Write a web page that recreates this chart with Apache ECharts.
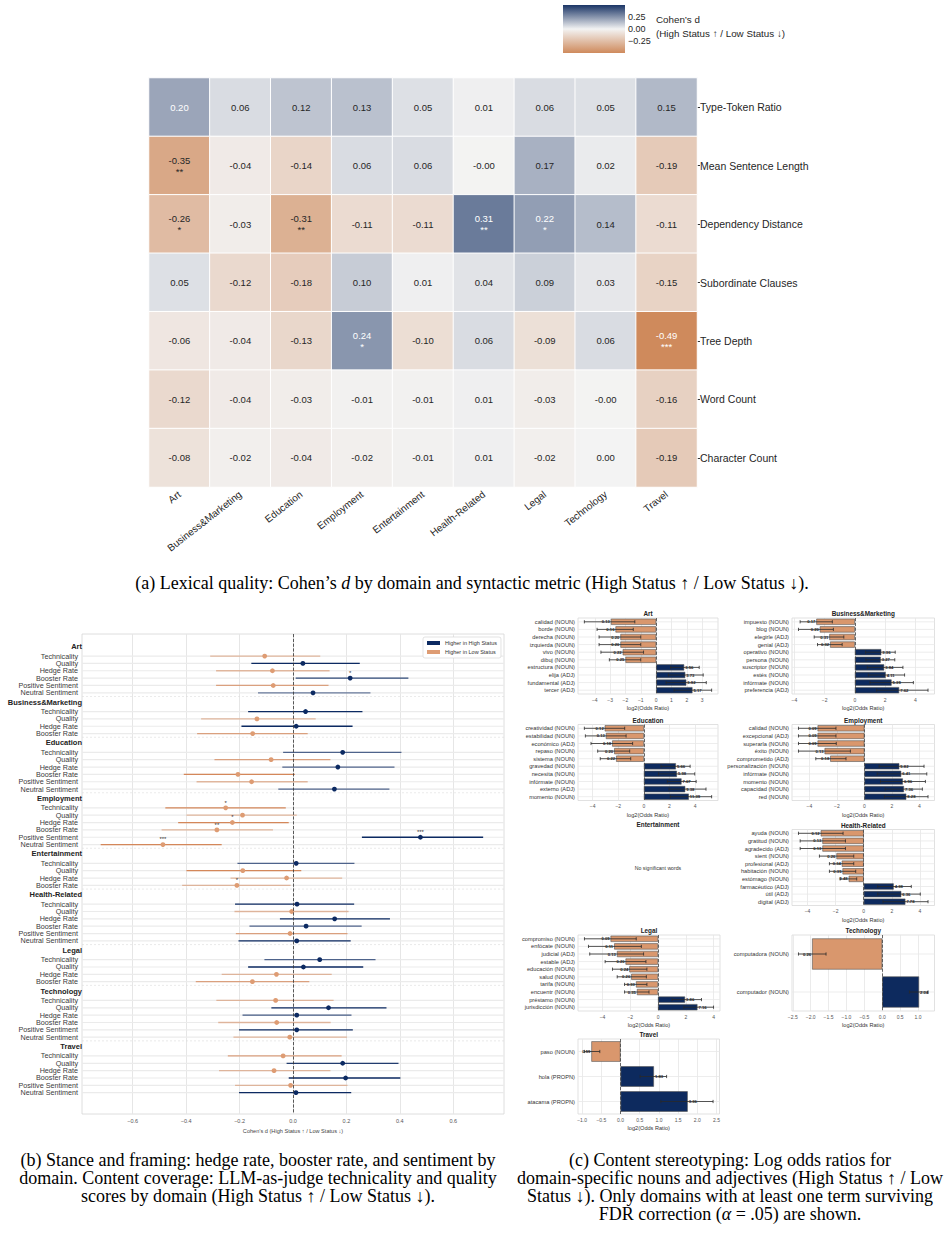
<!DOCTYPE html>
<html lang="en">
<head>
<meta charset="utf-8">
<title>Status framing figure</title>
<script src="https://cdn.jsdelivr.net/npm/echarts@6/dist/echarts.min.js"></script>
<style>
  body { margin: 0; background: #fff; }
  #chart { position: absolute; left: 0; top: 0; width: 944px; height: 1240px; }
  .cap { position: absolute; font-family: "Liberation Serif", "DejaVu Serif", serif; font-size: 18px; line-height: 18px; color: #000; text-align: center; }
</style>
</head>
<body>
<div id="chart"></div>
<div class="cap" style="left:0;width:944px;top:574px">(a) Lexical quality: Cohen’s <i>d</i> by domain and syntactic metric (High Status ↑ / Low Status ↓).</div>
<div class="cap" style="left:0;width:516px;top:1151px">(b) Stance and framing: hedge rate, booster rate, and sentiment by<br>domain. Content coverage: LLM-as-judge technicality and quality<br>scores by domain (High Status ↑ / Low Status ↓).</div>
<div class="cap" style="left:508px;width:444px;top:1151px">(c) Content stereotyping: Log odds ratios for<br>domain-specific nouns and adjectives (High Status ↑ / Low<br>Status ↓). Only domains with at least one term surviving<br>FDR correction (<i>α</i> = .05) are shown.</div>
<script>
// ---- (a) lexical quality heatmap ----
var domains = ['Art', 'Business&Marketing', 'Education', 'Employment', 'Entertainment', 'Health-Related', 'Legal', 'Technology', 'Travel'];
var lexMetrics = ['Type-Token Ratio', 'Mean Sentence Length', 'Dependency Distance', 'Subordinate Clauses', 'Tree Depth', 'Word Count', 'Character Count'];
var lexD = [
    [0.20, 0.06, 0.12, 0.13, 0.05, 0.01, 0.06, 0.05, 0.15],
    [-0.35, -0.04, -0.14, 0.06, 0.06, -0.002, 0.17, 0.02, -0.19],
    [-0.26, -0.03, -0.31, -0.11, -0.11, 0.31, 0.22, 0.14, -0.11],
    [0.05, -0.12, -0.18, 0.10, 0.01, 0.04, 0.09, 0.03, -0.15],
    [-0.06, -0.04, -0.13, 0.24, -0.10, 0.06, -0.09, 0.06, -0.49],
    [-0.12, -0.04, -0.03, -0.01, -0.01, 0.01, -0.03, -0.002, -0.16],
    [-0.08, -0.02, -0.04, -0.02, -0.01, 0.01, -0.02, 0.00, -0.19]
];
var lexStars = [
    ['', '', '', '', '', '', '', '', ''],
    ['**', '', '', '', '', '', '', '', ''],
    ['*', '', '**', '', '', '**', '*', '', ''],
    ['', '', '', '', '', '', '', '', ''],
    ['', '', '', '*', '', '', '', '', '***'],
    ['', '', '', '', '', '', '', '', ''],
    ['', '', '', '', '', '', '', '', '']
];
var cbarTicks = [-0.25, 0, 0.25];

// ---- (b) stance / coverage forest plot ----
var stanceGroups = domains;
var stanceMetrics = [
    ['Technicality', 'Quality', 'Hedge Rate', 'Booster Rate', 'Positive Sentiment', 'Neutral Sentiment'],
    ['Technicality', 'Quality', 'Hedge Rate', 'Booster Rate'],
    ['Technicality', 'Quality', 'Hedge Rate', 'Booster Rate', 'Positive Sentiment', 'Neutral Sentiment'],
    ['Technicality', 'Quality', 'Hedge Rate', 'Booster Rate', 'Positive Sentiment', 'Neutral Sentiment'],
    ['Technicality', 'Quality', 'Hedge Rate', 'Booster Rate'],
    ['Technicality', 'Quality', 'Hedge Rate', 'Booster Rate', 'Positive Sentiment', 'Neutral Sentiment'],
    ['Technicality', 'Quality', 'Hedge Rate', 'Booster Rate'],
    ['Technicality', 'Quality', 'Hedge Rate', 'Booster Rate', 'Positive Sentiment', 'Neutral Sentiment'],
    ['Technicality', 'Quality', 'Hedge Rate', 'Booster Rate', 'Positive Sentiment', 'Neutral Sentiment']
];
var stanceEst = [
    [-0.106, 0.037, -0.077, 0.214, -0.074, 0.075],
    [0.047, -0.135, 0.012, -0.151],
    [0.186, -0.082, 0.168, -0.206, -0.155, 0.155],
    [-0.252, -0.189, -0.227, -0.285, 0.477, -0.487],
    [0.012, -0.188, -0.024, -0.21],
    [0.015, -0.005, 0.156, 0.049, -0.011, 0.014],
    [0.10, 0.039, -0.062, -0.152],
    [-0.065, 0.133, 0.014, -0.061, 0.014, -0.012],
    [-0.037, 0.186, -0.071, 0.197, -0.009, 0.011]
];
var stanceLo = [
    [-0.31, -0.156, -0.288, 0.01, -0.288, -0.131],
    [-0.168, -0.344, -0.193, -0.359],
    [-0.037, -0.294, -0.04, -0.409, -0.361, -0.055],
    [-0.478, -0.399, -0.43, -0.492, 0.258, -0.72],
    [-0.208, -0.399, -0.234, -0.415],
    [-0.217, -0.219, -0.049, -0.163, -0.214, -0.204],
    [-0.107, -0.168, -0.267, -0.364],
    [-0.287, -0.081, -0.189, -0.28, -0.202, -0.223],
    [-0.244, -0.024, -0.277, -0.016, -0.217, -0.202]
];
var stanceHi = [
    [0.102, 0.25, 0.137, 0.432, 0.133, 0.29],
    [0.26, 0.085, 0.223, 0.055],
    [0.406, 0.14, 0.38, 0.007, 0.055, 0.361],
    [-0.027, 0.014, -0.016, -0.075, 0.712, -0.267],
    [0.23, 0.031, 0.184, -0.009],
    [0.229, 0.208, 0.363, 0.257, 0.204, 0.216],
    [0.309, 0.263, 0.145, 0.061],
    [0.152, 0.35, 0.219, 0.141, 0.224, 0.202],
    [0.182, 0.395, 0.14, 0.402, 0.204, 0.218]
];
var stanceSig = [
    ['', '', '', '*', '', ''],
    ['', '', '', ''],
    ['', '', '', '', '', ''],
    ['*', '', '*', '**', '***', '***'],
    ['', '', '', '*'],
    ['', '', '', '', '', ''],
    ['', '', '', ''],
    ['', '', '', '', '', ''],
    ['', '', '', '', '', '']
];
// line strength of each interval as it appears in the figure
var stanceAlpha = [
    [0.55, 1, 0.55, 0.85, 0.75, 0.6],
    [1, 0.55, 1, 0.75],
    [0.7, 0.75, 0.7, 1, 0.55, 0.7],
    [1, 0.55, 1, 0.55, 1, 1],
    [0.7, 1, 0.55, 0.55],
    [1, 0.55, 1, 0.7, 0.75, 1],
    [0.7, 1, 0.55, 0.75],
    [0.55, 1, 0.75, 0.55, 1, 0.55],
    [0.75, 0.9, 0.55, 1, 0.55, 1]
];
var stanceTicks = [-0.6, -0.4, -0.2, 0, 0.2, 0.4, 0.6];

// ---- (c) log odds ratios ----
var artWords = ['calidad (NOUN)', 'borde (NOUN)', 'derecha (NOUN)', 'izquierda (NOUN)', 'vivo (NOUN)', 'dibuj (NOUN)', 'estructura (NOUN)', 'elija (ADJ)', 'fundamental (ADJ)', 'tercer (ADJ)'];
var artLogOR = [-2.95, -2.65, -2.33, -2.33, -2.18, -2.0, 1.83, 1.9, 1.97, 2.37];
var artLo = [-4.68, -3.85, -3.72, -3.72, -3.6, -3.05, 0.95, 0.8, 0.65, 1.17];
var artHi = [-1.39, -1.49, -1.0, -1.0, -0.82, -1.0, 2.81, 3.07, 3.27, 3.62];

var bmWords = ['impuesto (NOUN)', 'blog (NOUN)', 'elegirle (ADJ)', 'genial (ADJ)', 'operativo (NOUN)', 'persona (NOUN)', 'suscriptor (NOUN)', 'estés (NOUN)', 'infórmate (NOUN)', 'preferencia (ADJ)'];
var bmLogOR = [-2.55, -2.32, -1.69, -1.64, 1.75, 1.71, 1.94, 2.04, 2.43, 2.93];
var bmLo = [-3.62, -3.73, -2.69, -2.47, 0.71, 0.73, 0.82, 0.89, 1.0, 1.44];
var bmHi = [-1.49, -1.42, -0.73, -0.84, 2.67, 2.64, 3.18, 3.29, 3.87, 4.84];

var eduWords = ['creatividad (NOUN)', 'estabilidad (NOUN)', 'económico (ADJ)', 'repaso (NOUN)', 'sistema (NOUN)', 'gravedad (NOUN)', 'necesita (NOUN)', 'infórmate (NOUN)', 'externo (ADJ)', 'momento (NOUN)'];
var eduLogOR = [-3.06, -2.97, -2.48, -2.32, -2.17, 2.5, 2.58, 2.94, 3.23, 3.51];
var eduLo = [-4.65, -4.57, -4.13, -3.61, -3.41, 1.34, 1.14, 1.83, 1.96, 2.06];
var eduHi = [-1.5, -1.39, -0.88, -1.11, -1.03, 3.61, 3.97, 4.08, 4.85, 5.29];

var empWords = ['calidad (NOUN)', 'excepcional (ADJ)', 'superarla (NOUN)', 'éxito (NOUN)', 'comprometido (ADJ)', 'personalización (NOUN)', 'infórmate (NOUN)', 'momento (NOUN)', 'capacidad (NOUN)', 'red (NOUN)'];
var empLogOR = [-3.41, -3.41, -3.41, -2.9, -2.49, 2.54, 2.68, 2.8, 2.88, 3.05];
var empLo = [-4.8, -4.8, -4.8, -4.8, -3.54, 1.07, 0.93, 1.17, 1.51, 1.46];
var empHi = [-2.07, -2.07, -2.05, -1.02, -1.34, 4.34, 4.54, 4.44, 4.22, 4.63];

var healthWords = ['ayuda (NOUN)', 'gratitud (NOUN)', 'agradecido (ADJ)', 'sient (NOUN)', 'profesional (ADJ)', 'habitación (NOUN)', 'estómago (NOUN)', 'farmacéutico (ADJ)', 'útil (ADJ)', 'digital (ADJ)'];
var healthLogOR = [-3.06, -2.94, -2.94, -1.94, -1.56, -1.51, -1.07, 2.13, 2.67, 2.96];
var healthLo = [-4.64, -4.52, -4.52, -3.15, -2.44, -2.44, -1.68, 0.99, 0.99, 1.37];
var healthHi = [-1.47, -1.3, -1.3, -0.71, -0.71, -0.57, -0.5, 3.38, 4.02, 4.57];

var legalWords = ['compromiso (NOUN)', 'enfócate (NOUN)', 'judicial (ADJ)', 'estable (ADJ)', 'educación (NOUN)', 'salud (NOUN)', 'tarifa (NOUN)', 'encuentr (NOUN)', 'préstamo (NOUN)', 'jurisdicción (NOUN)'];
var legalLogOR = [-3.42, -3.16, -2.96, -2.34, -2.07, -1.93, -1.59, -1.52, 1.95, 2.84];
var legalLo = [-5.3, -5.01, -4.92, -3.81, -3.28, -2.94, -2.41, -2.41, 1.01, 1.86];
var legalHi = [-1.57, -1.2, -1.04, -0.87, -0.8, -0.84, -0.8, -0.65, 3.13, 4.0];

var techWords = ['computadora (NOUN)', 'computador (NOUN)'];
var techLogOR = [-1.96, 1.03];
var techLo = [-2.34, 0.76];
var techHi = [-1.57, 1.28];

var travelWords = ['paso (NOUN)', 'hola (PROPN)', 'atacama (PROPN)'];
var travelLogOR = [-0.76, 0.87, 1.75];
var travelLo = [-0.94, 0.51, 1.05];
var travelHi = [-0.54, 1.2, 2.41];

var artTicks = [-4, -3, -2, -1, 0, 1, 2, 3];
var ticksBy2 = [-4, -2, 0, 2, 4];
var techTicks = [-2.5, -2, -1.5, -1, -0.5, 0, 0.5, 1];
var travelTicks = [-1, -0.5, 0, 0.5, 1, 1.5, 2, 2.5];

// ---- styling ----
var NAVY = '#0c2a62', ORANGE = '#d4875a', DOT_ORANGE = '#de9c73';
var BAR_ORANGE = '#d9976d', BAR_NAVY = '#0d2a5e';
var FONT = '"Liberation Sans", Arial, sans-serif';
var heatMin = -0.49, heatMax = 0.49;
var heatColors = ['#cf8a5c', '#f3f3f3', '#1b3566'];

function minus(s) { return String(s).replace('-', '\u2212'); }

function hexRgb(h) { return [parseInt(h.substr(1, 2), 16), parseInt(h.substr(3, 2), 16), parseInt(h.substr(5, 2), 16)]; }
function cellRgb(v) {
    var t = (v - heatMin) / (heatMax - heatMin) * (heatColors.length - 1);
    var k = Math.min(Math.floor(t), heatColors.length - 2), f = t - k;
    var a = hexRgb(heatColors[k]), b = hexRgb(heatColors[k + 1]);
    return [0, 1, 2].map(function (c) { return a[c] + (b[c] - a[c]) * f; });
}
function textColor(v) {
    var lin = cellRgb(v).map(function (c) { c /= 255; return c <= 0.03928 ? c / 12.92 : Math.pow((c + 0.055) / 1.055, 2.4); });
    var lum = 0.2126 * lin[0] + 0.7152 * lin[1] + 0.0722 * lin[2];
    return lum > 0.408 ? '#262626' : '#ffffff';
}

var heatData = [];
lexD.forEach(function (row, i) {
    row.forEach(function (v, j) {
        heatData.push({ value: [j, i, v], label: { color: textColor(v) } });
    });
});

// row positions of the forest plot: items one unit apart, wider gap between domains
var GROUP_GAP = 2.55;
var stRows = [], stHeads = [], stSeps = [];
var p = 0;
stanceGroups.forEach(function (g, gi) {
    if (gi > 0) {
        stSeps.push(p + 0.5);
        p += GROUP_GAP;
    }
    stHeads.push({ value: [0, p - GROUP_GAP / 2], name: g });
    stanceMetrics[gi].forEach(function (m, mi) {
        stRows.push({
            value: [stanceEst[gi][mi], p],
            lo: stanceLo[gi][mi], hi: stanceHi[gi][mi],
            sig: stanceSig[gi][mi], alpha: stanceAlpha[gi][mi], label: m
        });
        p += 1;
    });
    p -= 1;
});
var stLast = p;

function stanceRender(params, api) {
    var r = stRows[params.dataIndex];
    var cs = params.coordSys;
    var pt = api.coord([r.value[0], r.value[1]]);
    var y = pt[1];
    var xa = api.coord([r.lo, r.value[1]])[0], xb = api.coord([r.hi, r.value[1]])[0];
    var pos = r.value[0] >= 0;
    var kids = [
        { type: 'line', shape: { x1: cs.x, y1: y, x2: cs.x + cs.width, y2: y }, style: { stroke: '#ebebeb', lineWidth: 1.2 } },
        { type: 'line', shape: { x1: xa, y1: y, x2: xb, y2: y }, style: { stroke: pos ? NAVY : ORANGE, lineWidth: 1.3, opacity: r.alpha } },
        { type: 'circle', shape: { cx: pt[0], cy: y, r: 2.4 }, style: { fill: pos ? NAVY : DOT_ORANGE } },
        { type: 'text', x: cs.x - 4, y: y, style: { text: r.label, align: 'right', verticalAlign: 'middle', textAlign: 'right', textVerticalAlign: 'middle', fontSize: 7.2, fontFamily: FONT, fill: '#3a3a3a' } }
    ];
    if (r.sig) {
        kids.push({ type: 'text', x: pt[0], y: y - 2.2, style: { text: r.sig, align: 'center', verticalAlign: 'bottom', textAlign: 'center', textVerticalAlign: 'bottom', fontSize: 6, fontFamily: FONT, fill: '#333' } });
    }
    return { type: 'group', children: kids };
}

function headRender(params, api) {
    var h = stHeads[params.dataIndex];
    var cs = params.coordSys;
    var y = api.coord([0, h.value[1]])[1];
    var kids = [
        { type: 'text', x: cs.x, y: y, style: { text: h.name, align: 'right', verticalAlign: 'middle', textAlign: 'right', textVerticalAlign: 'middle', fontSize: 7.5, fontWeight: 'bold', fontFamily: FONT, fill: '#222' } }
    ];
    if (params.dataIndex > 0) {
        var ys = api.coord([0, stSeps[params.dataIndex - 1]])[1];
        kids.push({ type: 'line', shape: { x1: cs.x, y1: ys, x2: cs.x + cs.width, y2: ys }, style: { stroke: '#dcdcdc', lineWidth: 0.6, lineDash: [2, 2] } });
    }
    return { type: 'group', children: kids };
}

var option = {
    animation: false,
    textStyle: { fontFamily: FONT },
    grid: [
        { left: 149, top: 78, width: 548, height: 409 },
        { left: 563, top: 5, width: 62, height: 48 },
        { left: 82, top: 634, width: 422, height: 480, show: true, borderColor: '#d6d6d6', borderWidth: 0.8 }
    ],
    xAxis: [
        {
            gridIndex: 0, type: 'category', data: domains, position: 'bottom',
            axisLine: { show: false }, axisTick: { show: false }, splitLine: { show: false },
            axisLabel: { rotate: 38, fontSize: 10, color: '#262626', margin: 6, interval: 0 }
        },
        { gridIndex: 1, type: 'value', show: false, min: 0, max: 1 },
        {
            gridIndex: 2, type: 'value', min: -0.79, max: 0.79,
            axisLine: { show: false },
            axisTick: { show: false, customValues: stanceTicks },
            axisLabel: { customValues: stanceTicks, fontSize: 5.5, color: '#555', margin: 4, formatter: function (v) { return minus(v.toFixed(1)); } },
            splitLine: { show: true, lineStyle: { color: '#e6e6e6', width: 1 } },
            name: 'Cohen\u2019s d (High Status \u2191 / Low Status \u2193)', nameLocation: 'middle', nameGap: 14,
            nameTextStyle: { fontSize: 5.6, color: '#444' }
        }
    ],
    yAxis: [
        {
            gridIndex: 0, type: 'category', data: lexMetrics, inverse: true, position: 'right',
            axisLine: { show: false }, axisTick: { show: true, length: 3, alignWithLabel: true, lineStyle: { color: '#333' } },
            axisLabel: { fontSize: 10.5, color: '#262626', margin: 3 }
        },
        {
            gridIndex: 1, type: 'value', position: 'right', min: heatMin, max: heatMax,
            axisLine: { show: false }, splitLine: { show: false },
            axisTick: { show: true, length: 2.5, customValues: cbarTicks, lineStyle: { color: '#333' } },
            axisLabel: { customValues: cbarTicks, fontSize: 9, color: '#262626', margin: 3, formatter: function (v) { return minus(v.toFixed(2)); } }
        },
        {
            gridIndex: 2, type: 'value', inverse: true, min: -3, max: stLast + 2.9,
            axisLine: { show: false }, axisTick: { show: false }, axisLabel: { show: false }, splitLine: { show: false }
        }
    ],
    visualMap: {
        show: false, type: 'continuous', seriesIndex: 0, dimension: 2,
        min: heatMin, max: heatMax, inRange: { color: heatColors }
    },
    legend: {
        data: ['Higher in High Status', 'Higher in Low Status'],
        left: 423, top: 637, orient: 'vertical', icon: 'rect',
        itemWidth: 13, itemHeight: 4, itemGap: 3, padding: [3, 4, 3, 4],
        borderColor: '#d0d0d0', borderWidth: 0.6, borderRadius: 2, backgroundColor: '#fff',
        textStyle: { fontSize: 5.5, color: '#333' }
    },
    graphic: [
        {
            type: 'rect', left: 563, top: 5, z: 5,
            shape: { width: 62, height: 48 },
            style: {
                fill: new echarts.graphic.LinearGradient(0, 0, 0, 1, [
                    { offset: 0, color: heatColors[2] }, { offset: 0.5, color: heatColors[1] }, { offset: 1, color: heatColors[0] }
                ])
            }
        },
        { type: 'text', left: 656, top: 12, style: { text: 'Cohen\u2019s d\n(High Status \u2191 / Low Status \u2193)', fontSize: 9.8, lineHeight: 14, fill: '#262626', fontFamily: FONT } }
    ],
    series: [
        {
            type: 'heatmap', xAxisIndex: 0, yAxisIndex: 0, data: heatData,
            itemStyle: { borderColor: '#ffffff', borderWidth: 1 },
            label: {
                show: true, fontSize: 9.5, lineHeight: 11, fontFamily: FONT,
                formatter: function (pr) {
                    var s = lexStars[pr.value[1]][pr.value[0]];
                    return pr.value[2].toFixed(2) + (s ? '\n' + s : '');
                }
            },
            emphasis: { disabled: true }
        },
        {
            type: 'custom', xAxisIndex: 2, yAxisIndex: 2, data: stRows, renderItem: stanceRender, z: 3,
            encode: { x: 0, y: 1 },
            markLine: { silent: true, symbol: 'none', label: { show: false }, lineStyle: { type: 'dashed', color: '#333', width: 0.8 }, data: [{ xAxis: 0 }] }
        },
        { type: 'custom', xAxisIndex: 2, yAxisIndex: 2, data: stHeads, renderItem: headRender, z: 2, encode: { x: 0, y: 1 } },
        { name: 'Higher in High Status', type: 'line', xAxisIndex: 2, yAxisIndex: 2, data: [], itemStyle: { color: NAVY } },
        { name: 'Higher in Low Status', type: 'line', xAxisIndex: 2, yAxisIndex: 2, data: [], itemStyle: { color: DOT_ORANGE } }
    ]
};

// ---- small multiples of panel (c) ----
function addPanel(title, box, words, vals, lo, hi, ticks, dec) {
    var g = option.grid.length;
    var lmin = Math.min.apply(null, lo.concat([0])), lmax = Math.max.apply(null, hi.concat([0]));
    var pad = (lmax - lmin) * 0.05;
    option.grid.push({ left: box[0], top: box[1], width: box[2], height: box[3], show: true, borderColor: '#d9d9d9', borderWidth: 0.8 });
    option.xAxis.push({
        gridIndex: g, type: 'value', min: lmin - pad, max: lmax + pad,
        axisLine: { show: false },
        axisTick: { show: false, customValues: ticks },
        axisLabel: { customValues: ticks, fontSize: 5, color: '#555', margin: 3, formatter: function (v) { return minus(v.toFixed(dec)); } },
        splitLine: { show: true, lineStyle: { color: '#e6e6e6', width: 0.8 } },
        name: 'log2(Odds Ratio)', nameLocation: 'middle', nameGap: 11, nameTextStyle: { fontSize: 5.6, color: '#333' }
    });
    option.yAxis.push({
        gridIndex: g, type: 'category', data: words, inverse: true,
        axisLine: { show: false }, axisTick: { show: false }, splitLine: { show: false },
        axisLabel: { fontSize: 5.7, color: '#333', margin: 3, interval: 0 }
    });
    option.series.push({
        type: 'custom', xAxisIndex: g, yAxisIndex: g, z: 1, data: words.map(function (w, i) { return [0, i]; }),
        renderItem: function (params, api) {
            var cs = params.coordSys, y = api.coord([0, api.value(1)])[1];
            return { type: 'line', shape: { x1: cs.x, y1: y, x2: cs.x + cs.width, y2: y }, style: { stroke: '#e8e8e8', lineWidth: 0.8 } };
        }
    });
    option.series.push({
        type: 'bar', xAxisIndex: g, yAxisIndex: g, z: 2, barCategoryGap: '18%',
        data: vals.map(function (v) {
            return { value: v, itemStyle: { color: v < 0 ? BAR_ORANGE : BAR_NAVY }, label: { position: v < 0 ? 'left' : 'right' } };
        }),
        itemStyle: { borderColor: '#555', borderWidth: 0.6 },
        label: { show: true, distance: 1, fontSize: 4.2, fontWeight: 'bold', color: '#222', formatter: function (pr) { return Math.pow(2, pr.value).toFixed(2); } },
        markLine: { silent: true, symbol: 'none', label: { show: false }, lineStyle: { type: 'dashed', color: '#444', width: 0.8 }, data: [{ xAxis: 0 }] }
    });
    option.series.push({
        type: 'custom', xAxisIndex: g, yAxisIndex: g, z: 4, data: words.map(function (w, i) { return [lo[i], hi[i], i]; }),
        encode: { x: [0, 1], y: 2 },
        renderItem: function (params, api) {
            var i = api.value(2);
            var a = api.coord([api.value(0), i]), b = api.coord([api.value(1), i]);
            var st = { stroke: '#2a2a2a', lineWidth: 0.8 };
            return {
                type: 'group', children: [
                    { type: 'line', shape: { x1: a[0], y1: a[1], x2: b[0], y2: b[1] }, style: st },
                    { type: 'line', shape: { x1: a[0], y1: a[1] - 1.6, x2: a[0], y2: a[1] + 1.6 }, style: st },
                    { type: 'line', shape: { x1: b[0], y1: b[1] - 1.6, x2: b[0], y2: b[1] + 1.6 }, style: st }
                ]
            };
        }
    });
    option.graphic.push({ type: 'text', x: box[0] + box[2] / 2, y: box[1] - 4.5, style: { text: title, align: 'center', verticalAlign: 'middle', textAlign: 'center', textVerticalAlign: 'middle', fontSize: 6.4, fontWeight: 'bold', fill: '#222', fontFamily: FONT } });
}

addPanel('Art', [578, 618, 140, 76], artWords, artLogOR, artLo, artHi, artTicks, 0);
addPanel('Business&Marketing', [792, 618, 142.5, 76], bmWords, bmLogOR, bmLo, bmHi, ticksBy2, 0);
addPanel('Education', [578, 724.5, 140, 76], eduWords, eduLogOR, eduLo, eduHi, ticksBy2, 0);
addPanel('Employment', [792, 724.5, 142.5, 76], empWords, empLogOR, empLo, empHi, ticksBy2, 0);
addPanel('Health-Related', [792, 829.5, 142.5, 76], healthWords, healthLogOR, healthLo, healthHi, ticksBy2, 0);
addPanel('Legal', [578, 935, 142, 76], legalWords, legalLogOR, legalLo, legalHi, ticksBy2, 0);
addPanel('Technology', [792, 935, 142.5, 76], techWords, techLogOR, techLo, techHi, techTicks, 1);
addPanel('Travel', [578, 1039, 141.5, 75], travelWords, travelLogOR, travelLo, travelHi, travelTicks, 1);

// Entertainment has no surviving terms
option.graphic.push({ type: 'text', x: 658, y: 824, style: { text: 'Entertainment', align: 'center', verticalAlign: 'middle', textAlign: 'center', textVerticalAlign: 'middle', fontSize: 6.4, fontWeight: 'bold', fill: '#222', fontFamily: FONT } });
option.graphic.push({ type: 'text', x: 658, y: 868, style: { text: 'No significant words', align: 'center', verticalAlign: 'middle', textAlign: 'center', textVerticalAlign: 'middle', fontSize: 5.2, fill: '#333', fontFamily: FONT } });

var chart = echarts.init(document.getElementById('chart'), null, { renderer: 'svg' });
chart.setOption(option);
</script>
</body>
</html>
